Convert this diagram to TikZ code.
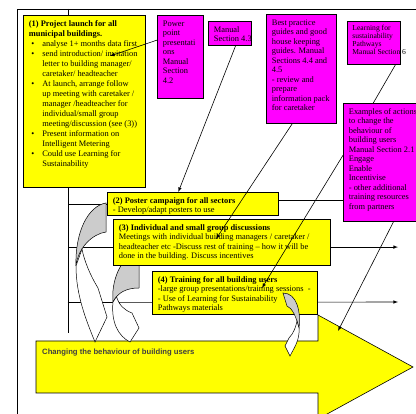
\documentclass[tikz,border=0pt]{standalone}
\usepackage{fontspec}
\setmainfont{Liberation Serif}
\setsansfont{Liberation Sans}
\usetikzlibrary{calc}

\definecolor{boxyellow}{RGB}{255,255,0}
\definecolor{boxmagenta}{RGB}{255,0,255}

\pgfdeclarelayer{lines}
\pgfdeclarelayer{bends}
\pgfsetlayers{lines,bends,main}

% box body: width, height (pt), rows
\newcommand{\panel}[3]{\parbox[c][#2pt][t]{#1pt}{\begin{tabular}{@{}l@{}}#3\end{tabular}}}

\tikzset{
  ybox/.style={draw=black, fill=boxyellow, line width=0.8pt, anchor=north west,
    inner xsep=5.5pt, inner ysep=4pt, font=\fontsize{8.4}{9.5}\selectfont},
  mbox/.style={ybox, fill=boxmagenta},
  link/.style={line width=0.6pt},
  bendarrow/.style={draw=black, line width=0.5pt},
}

\begin{document}
\begin{tikzpicture}[x=1pt,y=-1pt]
  \useasboundingbox (0,0) rectangle (416,414);

  % yellow boxes
  \node[ybox, font=\fontsize{8.4}{10}\selectfont] (launch) at (23,15) {\parbox[c][164pt][t]{111pt}{%
    \begin{tabular}{@{\hspace{2.5pt}}l@{\hspace{8pt}}l@{}}
    \multicolumn{2}{@{}l@{}}{\textbf{(1) Project launch for all}}\\
    \multicolumn{2}{@{}l@{}}{\textbf{municipal buildings.}}\\
    \textbullet & analyse 1+ months data first\\
    \textbullet & send introduction/ invitation\\
     & letter to building manager/\\
     & caretaker/ headteacher\\
    \textbullet & At launch, arrange follow\\
     & up meeting with caretaker /\\
     & manager /headteacher for\\
     & individual/small group\\
     & meeting/discussion (see (3))\\
    \textbullet & Present information on\\
     & Intelligent Metering\\
    \textbullet & Could use Learning for\\
     & Sustainability
    \end{tabular}}};
  \node[ybox] (poster) at (107,192) {\panel{160}{15}{\textbf{(2) Poster campaign for all sectors}\\- Develop/adapt posters to use}};
  \node[ybox] (discuss) at (113,219) {\panel{206}{38}{\textbf{(3) Individual and small group discussions}\\Meetings with individual building managers / caretaker /\\headteacher etc -Discuss rest of training – how it will be\\done in the building. Discuss incentives}};
  \node[ybox] (training) at (152,271) {\panel{154}{35}{\textbf{(4) Training for all building users}\\-large group presentations/training sessions\ \ -\\- Use of Learning for Sustainability\\Pathways materials}};

  % manual boxes
  \node[mbox] (ppt) at (157,15) {\panel{35}{75}{Power\\point\\presentati\\ons\\Manual\\Section\\4.2}};
  \node[mbox] (sec43) at (208,21) {\panel{32}{16}{Manual\\Section 4.3}};
  \node[mbox] (best) at (266,14) {\panel{59}{101}{Best practice\\guides and good\\house keeping\\guides. Manual\\Sections 4.4 and\\4.5\\- review and\\prepare\\information pack\\for caretaker}};
  \node[mbox, inner xsep=5pt, font=\fontsize{7.6}{8}\selectfont] (learn) at (347,21) {\panel{43}{35}{Learning for\\sustainability\\Pathways\\Manual Section 6}};
  \node[mbox] (examples) at (343,103) {\panel{69}{110}{Examples of actions\\to change the\\behaviour of\\building users\\Manual Section 2.1\\Engage\\Enable\\Incentivise\\- other additional\\training resources\\from partners}};

  \coordinate (trunkTop) at (68,9);
  \coordinate (trunkEnd) at (68,333);
  \coordinate (rightEnd) at (398,302);
  \coordinate (posterR) at ($(poster.north east)!.35!(poster.south east)$);
  \coordinate (discussL) at ($(discuss.north west)!.6!(discuss.south west)$);
  \coordinate (discussR) at ($(discuss.north east)!.6!(discuss.south east)$);
  \coordinate (trainRow) at ($(training.north west)!.72!(training.south west)$);

  \begin{pgfonlayer}{lines}
    \draw[line width=0.8pt] (17,414) -- (17,9) -- (416,9);
    \draw[link] (trunkTop) -- (trunkEnd);
    \draw[link] (trunkTop |- poster.west) -- (poster.west);
    \draw[link] (posterR) -- (posterR -| examples.west);
    \draw[link] (trunkTop |- discussL) -- (discussL);
    \draw[link, -latex] (discussR) -- (discussR -| rightEnd);
    \draw[link, -latex] (trunkTop |- trainRow) -- (rightEnd);
    % big arrow
    \draw[fill=boxyellow, line width=0.6pt] (36,341) -- (318,341) -- (318,315) -- (413,367)
      -- (318,419) -- (318,393) -- (36,393) -- cycle;
  \end{pgfonlayer}

  \begin{pgfonlayer}{bends}
    % bent arrow from (2)
    \filldraw[bendarrow, fill=gray!40] (106,203) .. controls (88,206) and (75,232) .. (76,266)
      .. controls (78,248) and (92,234) .. (106,232) -- cycle;
    \filldraw[bendarrow, fill=white] (76,266) .. controls (76,295) and (86,320) .. (95,342)
      -- (107,317) -- (98,288) .. controls (90,275) and (84,260) .. (82,249) -- cycle;
    % bent arrow from (3)
    \filldraw[bendarrow, fill=gray!40] (139,252) .. controls (120,256) and (111,282) .. (113,302)
      .. controls (118,292) and (127,288) .. (139,288) -- cycle;
    \filldraw[bendarrow, fill=white] (113,302) .. controls (111,322) and (118,336) .. (130,342)
      -- (139,328) -- (132,313) .. controls (124,310) and (119,305) .. (116.5,296.6) -- cycle;
  \end{pgfonlayer}

  % bent arrow from (4)
  \filldraw[bendarrow, fill=gray!40] (283,293) .. controls (297,293) and (301,312) .. (299,328)
    .. controls (296,316) and (292,308) .. (287,306) -- cycle;
  \filldraw[bendarrow, fill=white] (299,328) .. controls (300,340) and (294,348) .. (290,356)
    -- (285,346) -- (289,338) .. controls (294,333) and (296,326) .. (297,321) -- cycle;

  \node[anchor=base west, inner sep=0pt, text=black!75,
    font=\sffamily\bfseries\fontsize{7.7}{9}\selectfont] (changing) at (42,355)
    {Changing the behaviour of building users};

  \coordinate (tipLaunch) at (110,56);
  \coordinate (tipDiscuss) at (216,239);
  \coordinate (tipTraining) at (262,288);
  \coordinate (tipChange) at (338,331);
  \draw[link, -latex] ($(ppt.north west)!.3!(ppt.south west)$) -- (tipLaunch);
  \draw[link, -latex] ($(sec43.south west)!.63!(sec43.south east)$) -- ($(poster.north west)!.415!(poster.north east)$);
  \draw[link, -latex] ($(best.south west)!.37!(best.south east)$) -- (tipDiscuss);
  \draw[link] ($(learn.south west)!.9!(learn.south east)$) -- ($(examples.north west)!.375!(examples.north east)$);
  \draw[link, -latex] ($(examples.north west)!.44!(examples.south west)$) -- (tipTraining);
  \draw[link, -latex] ($(examples.south west)!.625!(examples.south east)$) -- (tipChange);
\end{tikzpicture}
\end{document}
